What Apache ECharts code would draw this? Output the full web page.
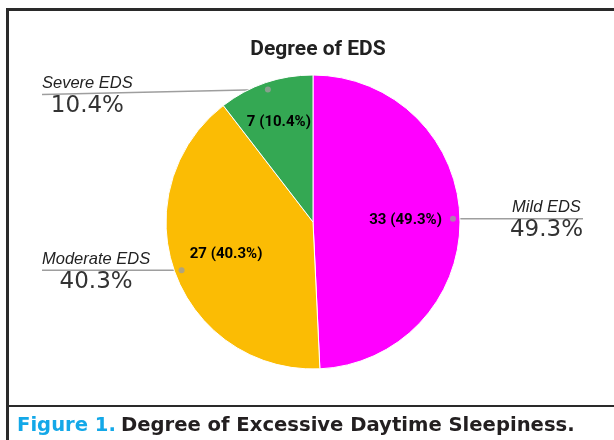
<!DOCTYPE html>
<html>
<head>
<meta charset="utf-8">
<script src="https://cdn.jsdelivr.net/npm/echarts@6/dist/echarts.min.js"></script>
<style>
  html, body { margin: 0; padding: 0; background: #fff; }
  #main { width: 614px; height: 440px; }
</style>
</head>
<body>
<div id="main"></div>
<script>
// Degree of EDS pie

// data
let categories = ['Mild EDS', 'Moderate EDS', 'Severe EDS'];
let counts = [33, 27, 7];
let colors = ['#ff00ff', '#fbbc04', '#34a853'];

// pie geometry
let pieCenter = [313, 222];
let pieRadius = 147;
let dotRadius = 140;
let innerLabelRadius = [0.63, 0.63, 0.72];
let outerLineDrop = [0, 0, 5];

let total = counts.reduce(function (a, b) { return a + b; }, 0);

let pieData = categories.map(function (name, i) {
    return { name: name, value: counts[i] };
});

// label-line dots: mid angle of each slice
let dotData = [];
let acc = 0;
counts.forEach(function (v) {
    dotData.push([dotRadius / pieRadius, acc + v / 2]);
    acc += v;
});

let myChart = echarts.init(document.getElementById('main'));

let option = {
    animation: false,
    color: colors,
    title: [{
        text: 'Degree of EDS',
        left: 313,
        top: 34,
        textAlign: 'center',
        textStyle: {
            fontFamily: 'Roboto',
            fontSize: 21,
            fontWeight: 'bold',
            color: '#212121'
        }
    }, {
        text: '{a|Figure 1.} {b|Degree of Excessive Daytime Sleepiness.}',
        left: 12,
        top: 411,
        textStyle: {
            rich: {
                a: { fontFamily: 'DejaVu Sans', fontSize: 19.6, fontWeight: 'bold', color: '#13a8e8' },
                b: { fontFamily: 'DejaVu Sans', fontSize: 19.6, fontWeight: 'bold', color: '#231f20' }
            }
        }
    }],
    graphic: [
        { type: 'rect', shape: { x: 6, y: 8, width: 620, height: 3 }, style: { fill: '#2a2a2a' } },
        { type: 'rect', shape: { x: 6, y: 8, width: 3, height: 440 }, style: { fill: '#2a2a2a' } },
        { type: 'rect', shape: { x: 6, y: 405, width: 620, height: 2 }, style: { fill: '#2a2a2a' } }
    ],
    polar: {
        center: pieCenter,
        radius: pieRadius
    },
    angleAxis: {
        type: 'value',
        min: 0,
        max: total,
        startAngle: 90,
        clockwise: true,
        show: false
    },
    radiusAxis: {
        type: 'value',
        min: 0,
        max: 1,
        show: false
    },
    series: [{
        // coloured slices + inner labels
        type: 'pie',
        center: pieCenter,
        radius: pieRadius,
        startAngle: 90,
        clockwise: true,
        percentPrecision: 1,
        silent: true,
        itemStyle: { borderColor: '#fff', borderWidth: 1 },
        label: {
            position: 'inside',
            formatter: '{c} ({d}%)',
            fontFamily: 'Roboto',
            fontSize: 15,
            fontWeight: 'bold',
            color: '#000'
        },
        labelLayout: function (p) {
            let r = p.labelRect;
            let lx = r.x + r.width / 2 - pieCenter[0];
            let ly = r.y + r.height / 2 - pieCenter[1];
            let d = Math.sqrt(lx * lx + ly * ly) || 1;
            let k = innerLabelRadius[p.dataIndex] * pieRadius / d;
            return {
                x: pieCenter[0] + lx * k,
                y: pieCenter[1] + ly * k,
                align: 'center',
                verticalAlign: 'middle'
            };
        },
        data: pieData
    }, {
        // outer labels with leader lines
        type: 'pie',
        center: pieCenter,
        radius: dotRadius,
        startAngle: 90,
        clockwise: true,
        percentPrecision: 1,
        silent: true,
        itemStyle: { color: 'rgba(0,0,0,0)' },
        label: {
            position: 'outside',
            formatter: '{n|{b}}\n{v|{d}%}',
            rich: {
                n: { fontFamily: 'Liberation Sans', fontStyle: 'italic', fontSize: 16.5, lineHeight: 20, color: '#222' },
                v: { fontFamily: 'DejaVu Sans', fontSize: 23, lineHeight: 25, color: '#333' }
            }
        },
        labelLine: {
            show: true,
            length: 10,
            length2: 10,
            lineStyle: { color: '#9e9e9e', width: 1.5 }
        },
        labelLayout: function (p) {
            let start = p.labelLinePoints[0];
            let right = start[0] > pieCenter[0];
            let w = p.labelRect.width;
            let lineY = start[1] + outerLineDrop[p.dataIndex];
            let edge = right ? 583 : 42;
            return {
                x: right ? edge - w / 2 : edge + w / 2,
                y: lineY - 21,
                align: 'center',
                verticalAlign: 'top',
                labelLinePoints: [start, [(start[0] + edge) / 2, (start[1] + lineY) / 2], [edge, lineY]]
            };
        },
        data: pieData
    }, {
        // leader-line dots
        type: 'scatter',
        coordinateSystem: 'polar',
        symbolSize: 6,
        silent: true,
        itemStyle: { color: '#9e9e9e' },
        data: dotData
    }]
};

myChart.setOption(option);
</script>
</body>
</html>
